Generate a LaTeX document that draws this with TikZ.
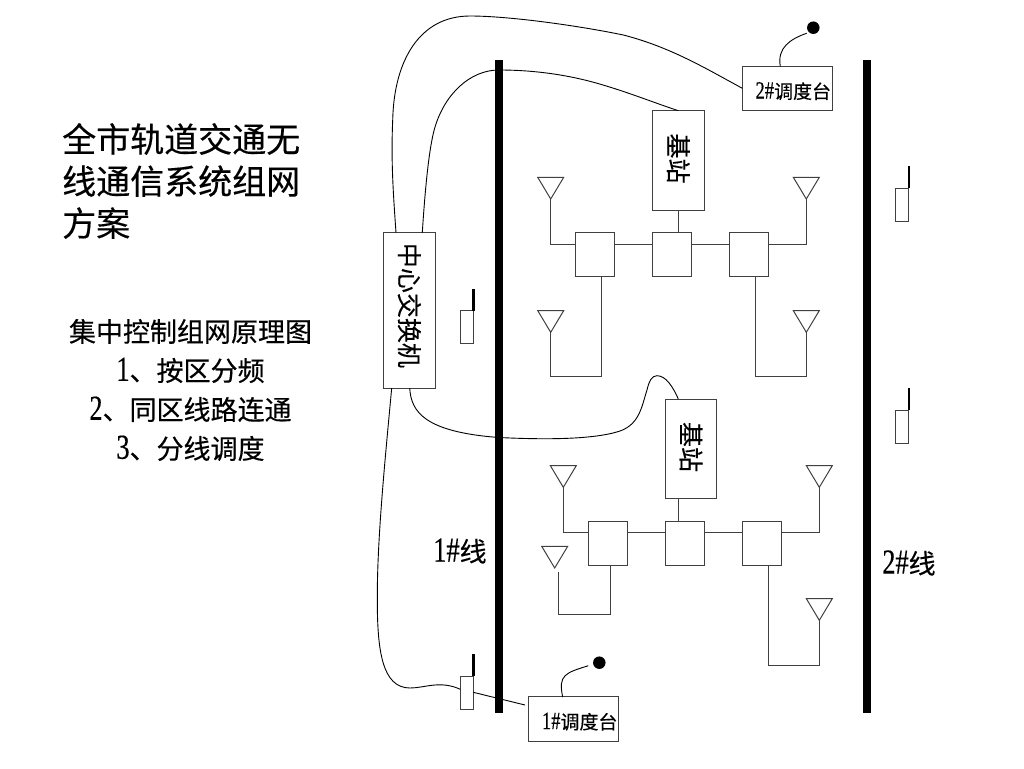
\documentclass[tikz,border=0pt]{standalone}
\usepackage{fontspec}
\setmainfont[FakeBold=0.35]{Noto Sans CJK SC}
\newfontfamily\ltn[FakeBold=0.35,FakeStretch=0.75,Scale=1.3]{Liberation Serif}
\newcommand\desktext[1]{\hspace*{12pt}\raisebox{-10pt}[0pt][0pt]{#1}}
\tikzset{
	unit/.style={draw=black!75,line width=1pt,inner sep=0pt,outer sep=0pt},
	rail/.style={line width=8.3pt},
	whip/.style={line width=2.4pt},
	wire/.style={line width=0.9pt},
	switchbox/.style={unit,minimum width=38.6pt,minimum height=44.3pt},
	handset/.style={unit,minimum width=13pt,minimum height=33.4pt},
	stationbox/.style={unit,minimum width=51.4pt,minimum height=99.6pt,font=\fontsize{25}{25}\selectfont},
	deskbox/.style={unit,minimum width=90pt,minimum height=44.5pt,font=\fontsize{19}{19}\selectfont},
	micdot/.style={circle,fill=black,minimum size=12.5pt,inner sep=0pt,outer sep=0pt},
	antenna/.pic={\draw[unit] (0,0) -- (-13,-21.7) -- (13,-21.7) -- cycle;}
}
\begin{document}
\begin{tikzpicture}[x=1pt,y=-1pt]
	\useasboundingbox (0,0) rectangle (1024,768);
	% texts on the left
	\node[anchor=west,inner sep=0pt,align=left,font=\fontsize{34}{42}\selectfont] (title) at (62,181) {全市轨道交通无\\线通信系统组网\\方案};
	\node[inner sep=0pt,align=center,font=\fontsize{27}{39}\selectfont] (sub) at (190.5,390) {集中控制组网原理图\\{\ltn 1}、按区分频\\{\ltn 2}、同区线路连通\\{\ltn 3}、分线调度};
	\node[font=\fontsize{27}{27}\selectfont,inner sep=0pt] (line1) at (460,551) {{\ltn 1\#}线};
	\node[font=\fontsize{27}{27}\selectfont,inner sep=0pt] (line2) at (909,563) {{\ltn 2\#}线};
	% the two lines
	\coordinate (r1a) at (499,60);
	\coordinate (r1b) at (499,713);
	\coordinate (r2a) at (866.7,60);
	\coordinate (r2b) at (866.7,713);
	% main boxes
	\node[unit,minimum width=51.3pt,minimum height=155.3pt,font=\fontsize{25}{25}\selectfont] (sw) at (409.4,310.4) {\rotatebox{-90}{中心交换机\hspace{10pt}}};
	\node[stationbox] (bs1) at (678.3,160.5) {\rotatebox{-90}{基站\hspace{4pt}}};
	\node[stationbox] (bs2) at (691,449) {\rotatebox{-90}{基站\hspace{4pt}}};
	\node[deskbox] (desk2) at (787.3,88.5) {\desktext{{\ltn 2\#}调度台}};
	\node[deskbox] (desk1) at (573.7,719) {\desktext{{\ltn 1\#}调度台}};
	\node[micdot] (dot2) at (813.3,27.7) {};
	\node[micdot] (dot1) at (599.3,662.7) {};
	% upper group
	\node[switchbox] (a1) at (595,254.8) {};
	\node[switchbox] (a2) at (672,254.8) {};
	\node[switchbox] (a3) at (748.7,254.8) {};
	\coordinate (rowa) at (0,244);
	\coordinate (ana) at (550.7,199);
	\coordinate (anb) at (806.3,199);
	\coordinate (anc) at (550.7,332.3);
	\coordinate (and) at (806.3,332.3);
	\coordinate (fa) at (601.3,376.7);
	\coordinate (fb) at (755.3,376.7);
	\pic at (ana) {antenna};
	\pic at (anb) {antenna};
	\pic at (anc) {antenna};
	\pic at (and) {antenna};
	\draw[unit] (a1.west |- rowa) -| (ana);
	\draw[unit] (a3.east |- rowa) -| (anb);
	\draw[unit] (a1.east |- rowa) -- (a2.west |- rowa);
	\draw[unit] (a2.east |- rowa) -- (a3.west |- rowa);
	\draw[unit] (bs1.south) -- (bs1.south |- a2.north);
	\draw[unit] (anc) |- (fa) -- (fa |- a1.south);
	\draw[unit] (and) |- (fb) -- (fb |- a3.south);
	% lower group
	\node[switchbox] (b1) at (607.8,543.3) {};
	\node[switchbox] (b2) at (684.7,543.3) {};
	\node[switchbox] (b3) at (761.7,543.3) {};
	\coordinate (rowb) at (0,532.3);
	\coordinate (stub) at (678.3,0);
	\coordinate (bna) at (563.3,487.3);
	\coordinate (bnb) at (819.3,487.3);
	\coordinate (bnc) at (554.7,568);
	\coordinate (bnd) at (819.3,620.3);
	\coordinate (bne) at (558.7,572);
	\coordinate (ga) at (610,614.3);
	\coordinate (gb) at (768,665.3);
	\pic at (bna) {antenna};
	\pic at (bnb) {antenna};
	\pic at (bnc) {antenna};
	\pic at (bnd) {antenna};
	\draw[unit] (b1.west |- rowb) -| (bna);
	\draw[unit] (b3.east |- rowb) -| (bnb);
	\draw[unit] (b1.east |- rowb) -- (b2.west |- rowb);
	\draw[unit] (b2.east |- rowb) -- (b3.west |- rowb);
	\draw[unit] (stub |- bs2.south) -- (stub |- b2.north);
	\draw[unit] (bne) |- (ga) -- (ga |- b1.south);
	\draw[unit] (bnd) |- (gb) -- (gb |- b3.south);
	% handsets
	\node[handset] (hs1) at (466.8,327.2) {};
	\node[handset] (hs2) at (902.4,205) {};
	\node[handset] (hs3) at (902.4,427) {};
	\node[handset] (hs4) at (466.8,693) {};
	\draw[whip] (hs1.north east) -- ++(0,-22);
	\draw[whip] (hs2.north east) -- ++(0,-22);
	\draw[whip] (hs3.north east) -- ++(0,-22);
	\draw[whip] (hs4.north east) -- ++(0,-22);
	% wires
	\coordinate (s1) at (396,232.7);
	\coordinate (s2) at (422.3,232.7);
	\coordinate (s3) at (409.7,388);
	\coordinate (s4) at (391.7,388);
	\coordinate (e1) at (742.3,88.3);
	\coordinate (e2) at (678.3,110.7);
	\coordinate (e3) at (678.3,399);
	\coordinate (e4) at (460.3,689.3);
	\coordinate (e5) at (473.3,692.3);
	\coordinate (e6) at (525,705);
	\draw[wire] (s1) .. controls (393,190) and (391,160) .. (392.7,120) .. controls (394,60) and (420,16) .. (470,16) .. controls (510,16) and (580,26) .. (623.3,35) .. controls (670,47) and (705,68) .. (e1);
	\draw[wire] (s2) .. controls (425,190) and (429,147) .. (435,127) .. controls (445,94) and (470,70) .. (499,70) .. controls (535,70) and (570,75) .. (603,85) .. controls (630,93) and (655,103) .. (e2);
	\draw[wire] (s3) .. controls (411,412) and (425,432) .. (499,437.5) .. controls (530,439) and (590,441) .. (620,431) .. controls (640,424) and (642,405) .. (647,390) .. controls (649,381) and (652,375.7) .. (657,375.7) .. controls (666,375.7) and (673,387) .. (e3);
	\draw[wire] (s4) .. controls (385,460) and (377,540) .. (377.3,600) .. controls (377.3,650) and (382,688) .. (410,688) .. controls (425,688) and (440,680) .. (e4);
	\draw[wire] (e5) -- (e6);
	% microphones
	\coordinate (m1) at (780.3,66.3);
	\coordinate (m2) at (806.7,33.3);
	\coordinate (m3) at (562.7,697);
	\coordinate (m4) at (588.3,665.7);
	\draw[wire] (m1) .. controls (777,48) and (790,39) .. (m2);
	\draw[wire] (m3) .. controls (558,675) and (565,673) .. (m4);
	\draw[rail] (r1a) -- (r1b);
	\draw[rail] (r2a) -- (r2b);
\end{tikzpicture}
\end{document}
